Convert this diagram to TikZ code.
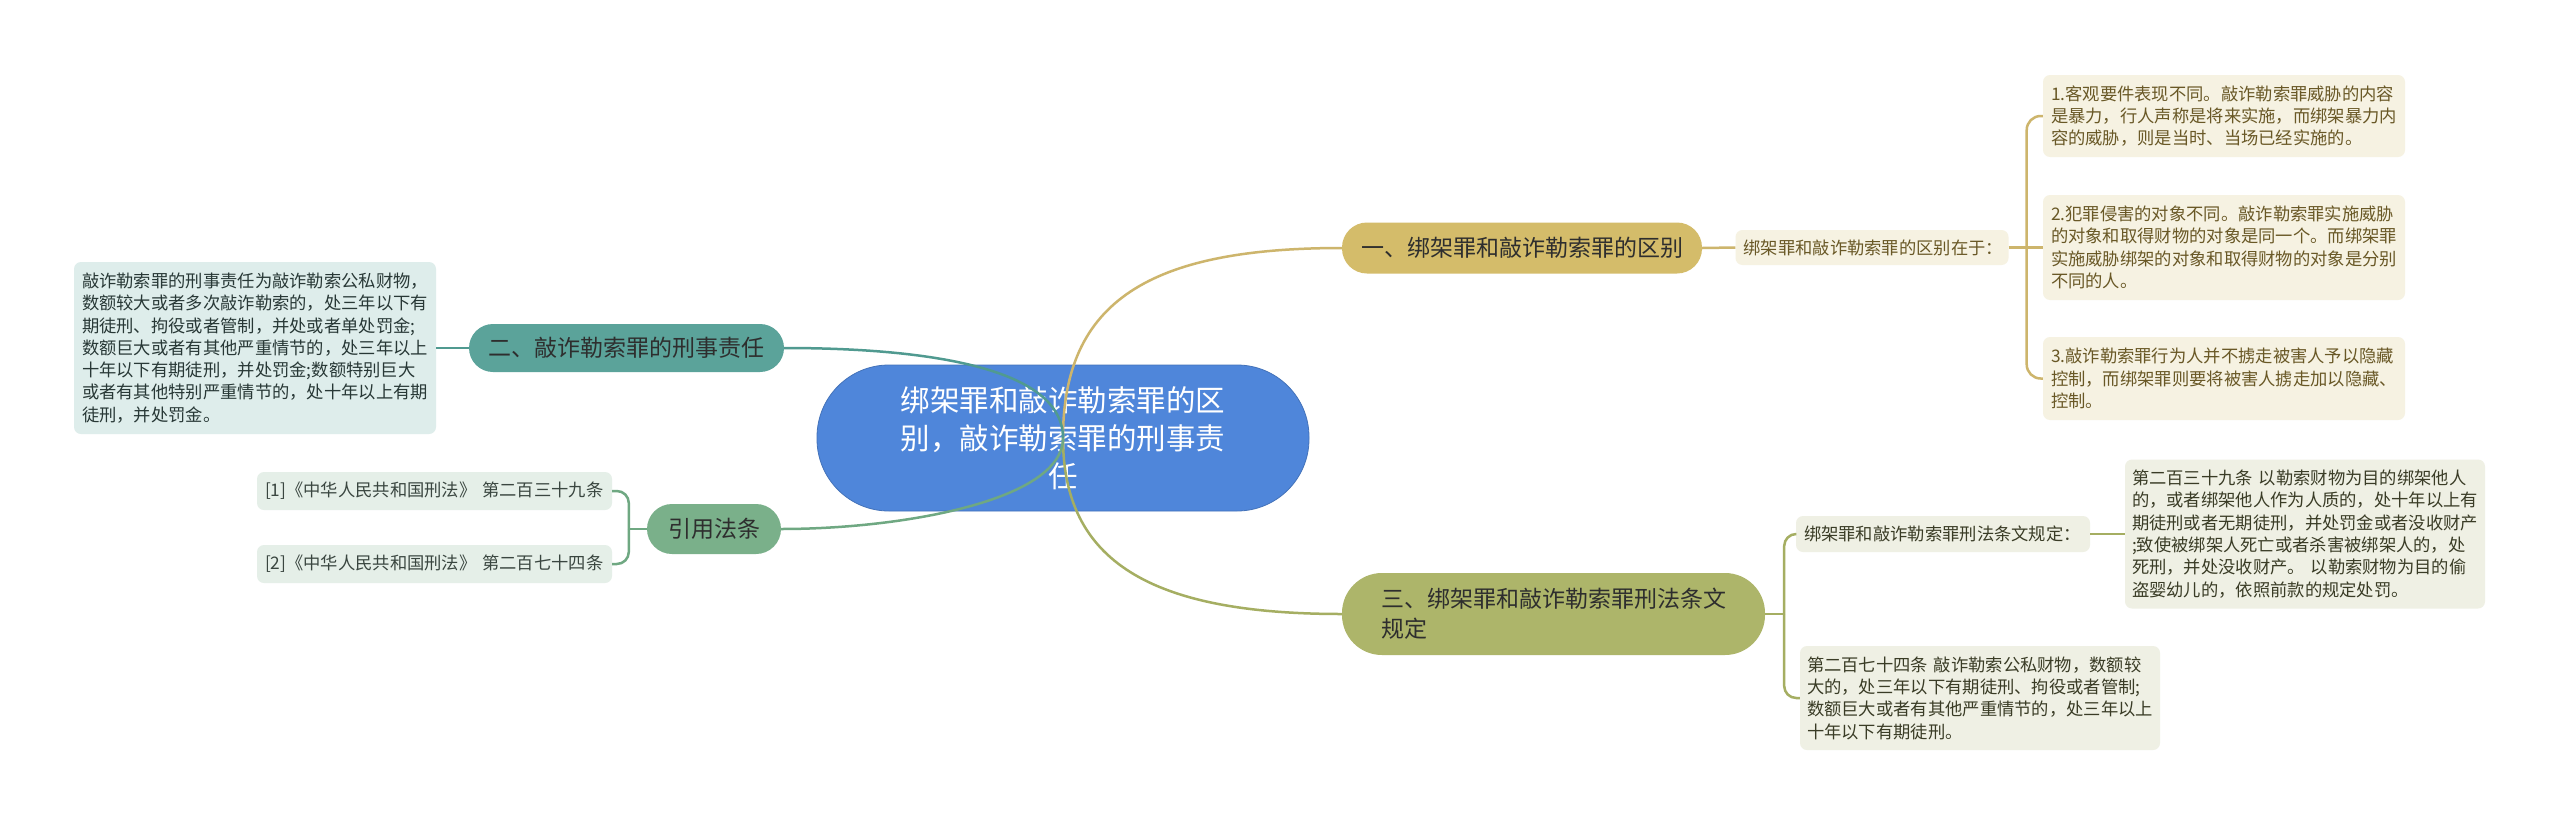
\documentclass[tikz,border=0pt]{standalone}
\usepackage{fontspec}
\newfontfamily\cjk{Noto Sans CJK SC}
\usepackage{xcolor}
\usepackage{tikz}
\usetikzlibrary{positioning}

\definecolor{rootblue}{RGB}{79,134,218}
\definecolor{goldfill}{RGB}{212,188,106}
\definecolor{goldline}{RGB}{205,181,108}
\definecolor{goldleaf}{RGB}{246,242,226}
\definecolor{goldtext}{RGB}{105,88,38}
\definecolor{olivefill}{RGB}{173,181,106}
\definecolor{oliveline}{RGB}{165,174,98}
\definecolor{oliveleaf}{RGB}{239,240,228}
\definecolor{olivetext}{RGB}{58,60,38}
\definecolor{tealfill}{RGB}{91,163,154}
\definecolor{tealline}{RGB}{80,154,144}
\definecolor{tealleaf}{RGB}{222,237,235}
\definecolor{tealtext}{RGB}{40,56,54}
\definecolor{greenfill}{RGB}{122,176,138}
\definecolor{greenline}{RGB}{111,168,130}
\definecolor{greenleaf}{RGB}{229,239,232}
\definecolor{greentext}{RGB}{58,70,64}

\begin{document}
\begin{tikzpicture}[x=1pt,y=-1pt,
  branch/.style={rectangle,inner ysep=0pt,text=black!82,
    font=\cjk\fontsize{23}{30}\selectfont},
  leaf/.style={rectangle,rounded corners=7pt,inner xsep=8pt,inner ysep=0pt,
    align=left,font=\cjk\fontsize{17.3}{22.3}\selectfont},
  link/.style={line width=2.5pt}]
\fill[white] (0,0) rectangle (2560,825);
\useasboundingbox (0,0) rectangle (2560,825);
% centre
\node[rectangle,rounded corners=72pt,fill=rootblue,draw=rootblue!85!black,line width=0.8pt,
  minimum width=492pt,minimum height=146pt,text width=340pt,align=center,text=white,
  font=\cjk\fontsize{29.5}{38}\selectfont] (root) at (1063,438)
  {绑架罪和敲诈勒索罪的区\\别，敲诈勒索罪的刑事责\\任};
% branches
\node[branch,rounded corners=25pt,fill=goldfill,minimum width=360pt,minimum height=51pt] (one) at (1522,248)
  {一、绑架罪和敲诈勒索罪的区别};
\node[branch,rounded corners=40pt,fill=olivefill,minimum width=423pt,minimum height=82pt,
  text width=345pt,inner xsep=39pt,align=left] (three) at (1553.5,614)
  {三、绑架罪和敲诈勒索罪刑法条文\\规定};
\node[branch,rounded corners=24pt,fill=tealfill,minimum width=315pt,minimum height=48pt] (two) at (626.5,348)
  {二、敲诈勒索罪的刑事责任};
\node[branch,rounded corners=25pt,fill=greenfill,minimum width=134pt,minimum height=50pt] (cite) at (714,529)
  {引用法条};
% links from the centre
\draw[link,goldline] (root.center) .. controls +(0,-137) and +(-192,0) .. (one.west);
\draw[link,oliveline] (root.center) .. controls +(0,123) and +(-192,0) .. (three.west);
\draw[link,tealline] (root.center) .. controls +(0,-77) and +(116,0) .. (two.east);
\draw[link,greenline] (root.center) .. controls +(0,63) and +(119,0) .. (cite.east);
% gold side
\node[leaf,fill=goldleaf,text=goldtext,minimum width=273pt,minimum height=35pt,text width=257pt] (split) at (1872,247.5)
  {绑架罪和敲诈勒索罪的区别在于：};
\node[leaf,fill=goldleaf,text=goldtext,minimum width=362pt,minimum height=82pt,text width=346pt] (g1) at (2224,116)
  {1.客观要件表现不同。敲诈勒索罪威胁的内容\\是暴力，行人声称是将来实施，而绑架暴力内\\容的威胁，则是当时、当场已经实施的。};
\node[leaf,fill=goldleaf,text=goldtext,minimum width=362pt,minimum height=105pt,text width=346pt] (g2) at (2224,247.5)
  {2.犯罪侵害的对象不同。敲诈勒索罪实施威胁\\的对象和取得财物的对象是同一个。而绑架罪\\实施威胁绑架的对象和取得财物的对象是分别\\不同的人。};
\node[leaf,fill=goldleaf,text=goldtext,minimum width=362pt,minimum height=83pt,text width=346pt] (g3) at (2224,378.5)
  {3.敲诈勒索罪行为人并不掳走被害人予以隐藏\\控制，而绑架罪则要将被害人掳走加以隐藏、\\控制。};
\draw[link,goldline] (one.east) -- (split.west);
\draw[link,goldline] (split.east) -- ++(18,0) coordinate (gj);
\draw[link,goldline,rounded corners=14pt] (gj) |- (g1.west);
\draw[link,goldline] (gj) -- (g2.west);
\draw[link,goldline,rounded corners=14pt] (gj) |- (g3.west);
% olive side
\node[leaf,fill=oliveleaf,text=olivetext,minimum width=294pt,minimum height=36pt,text width=278pt] (o1) at (1943,534)
  {绑架罪和敲诈勒索罪刑法条文规定：};
\node[leaf,fill=oliveleaf,text=olivetext,minimum width=360pt,minimum height=149pt,text width=346pt,inner xsep=7pt] (o3) at (2305,534)
  {第二百三十九条 以勒索财物为目的绑架他人\\的，或者绑架他人作为人质的，处十年以上有\\期徒刑或者无期徒刑，并处罚金或者没收财产\\;致使被绑架人死亡或者杀害被绑架人的，处\\死刑，并处没收财产。 以勒索财物为目的偷\\盗婴幼儿的，依照前款的规定处罚。};
\node[leaf,fill=oliveleaf,text=olivetext,minimum width=360pt,minimum height=104pt,text width=346pt,inner xsep=7pt] (o2) at (1980,698)
  {第二百七十四条 敲诈勒索公私财物，数额较\\大的，处三年以下有期徒刑、拘役或者管制;\\数额巨大或者有其他严重情节的，处三年以上\\十年以下有期徒刑。};
\draw[link,oliveline] (three.east) -- ++(19,0) coordinate (oj);
\draw[link,oliveline,rounded corners=12pt] (oj) |- (o1.west);
\draw[link,oliveline,rounded corners=12pt] (oj) |- (o2.west);
\draw[link,oliveline] (o1.east) -- (o3.west);
% teal side
\node[leaf,fill=tealleaf,text=tealtext,minimum width=362pt,minimum height=172pt,text width=346pt] (lbox) at (255,348)
  {敲诈勒索罪的刑事责任为敲诈勒索公私财物，\\数额较大或者多次敲诈勒索的，处三年以下有\\期徒刑、拘役或者管制，并处或者单处罚金;\\数额巨大或者有其他严重情节的，处三年以上\\十年以下有期徒刑，并处罚金;数额特别巨大\\或者有其他特别严重情节的，处十年以上有期\\徒刑，并处罚金。};
\draw[link,tealline] (two.west) -- (lbox.east);
% green side
\node[leaf,fill=greenleaf,text=greentext,minimum width=355pt,minimum height=38pt,text width=339pt] (r1) at (434.5,491)
  {[1]《中华人民共和国刑法》 第二百三十九条};
\node[leaf,fill=greenleaf,text=greentext,minimum width=355pt,minimum height=38pt,text width=339pt] (r2) at (434.5,564)
  {[2]《中华人民共和国刑法》 第二百七十四条};
\draw[link,greenline] (cite.west) -- ++(-18,0) coordinate (cj);
\draw[link,greenline,rounded corners=12pt] (cj) |- (r1.east);
\draw[link,greenline,rounded corners=12pt] (cj) |- (r2.east);
\end{tikzpicture}
\end{document}
